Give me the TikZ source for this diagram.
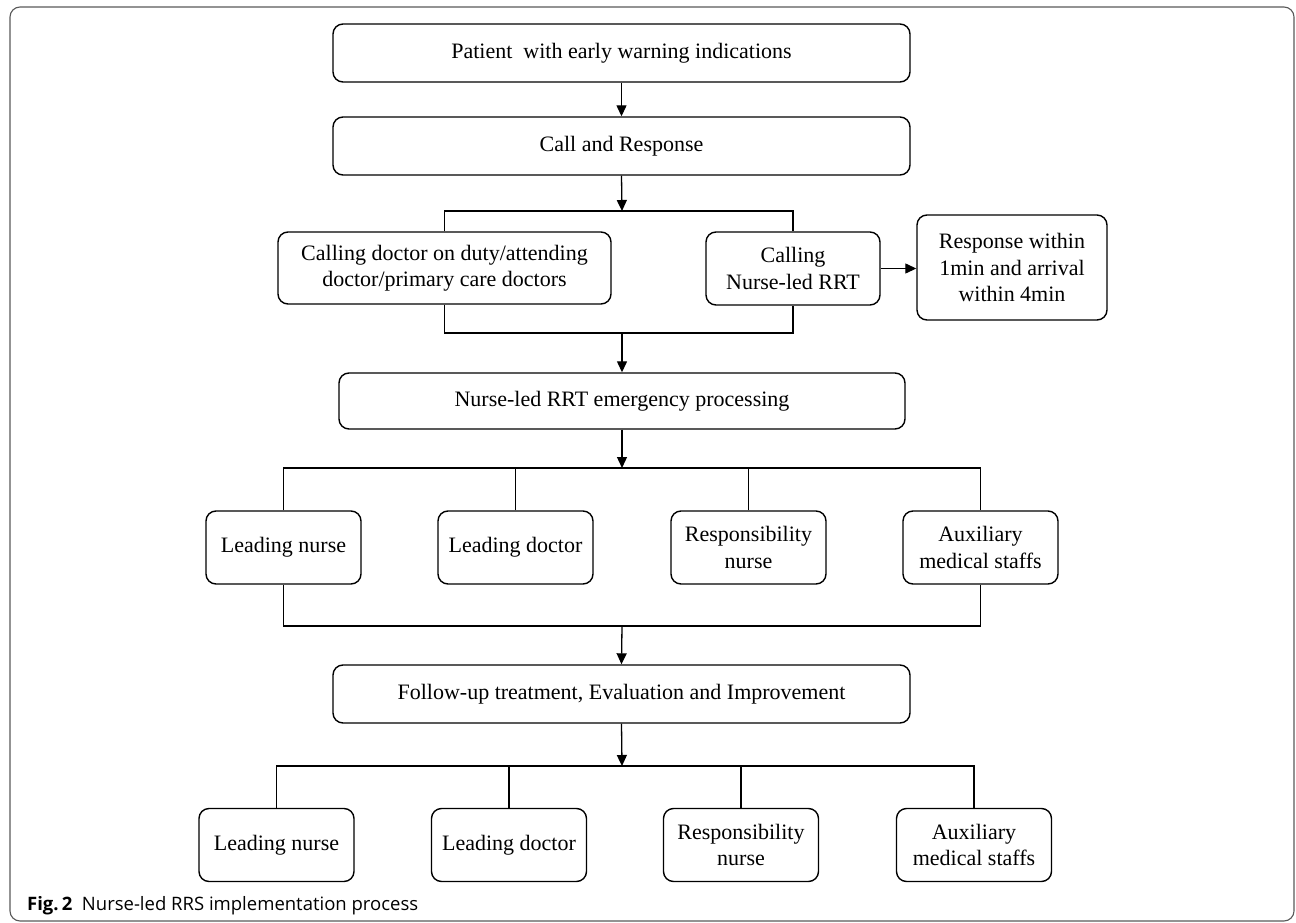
\documentclass[tikz,border=0pt]{standalone}
\usepackage{fontspec}
\setmainfont{Liberation Serif}
\newfontfamily\capfont{Open Sans}
\usetikzlibrary{arrows.meta}
\tikzset{
  box/.style={draw=black, line width=1.4pt, rounded corners=10pt, align=center,
    inner sep=0pt, font=\fontsize{22}{26.5}\selectfont},
  conn/.style={line width=1.3pt, draw=black},
  arr/.style={conn, -{Triangle[length=11pt,width=10pt]}},
}
\begin{document}
\begin{tikzpicture}[x=1pt,y=-1pt]
\useasboundingbox (0,0) rectangle (1296,923);
\draw[draw=black!65, line width=1.1pt, rounded corners=10pt] (10,7) rectangle (1294,921);

\node[box, minimum width=577pt, minimum height=58pt] (b1) at (621.5,53) {Patient\ \ with early warning indications};
\node[box, minimum width=577pt, minimum height=58pt] (b2) at (621.5,146) {Call and Response};

\node[box, minimum width=333pt, minimum height=72pt] (cd) at (444.5,268) {Calling doctor on duty/attending\\doctor/primary care doctors};
\node[box, minimum width=174pt, minimum height=73pt] (cr) at (793,268.5) {Calling\\Nurse-led RRT};
\node[box, minimum width=190pt, minimum height=105pt] (resp) at (1012,267.5) {Response within\\1min and arrival\\within 4min};

\node[box, minimum width=566pt, minimum height=56pt] (em) at (622,401) {Nurse-led RRT emergency processing};

\node[box, minimum width=155pt, minimum height=73pt] (ln1) at (283.5,547.5) {Leading nurse};
\node[box, minimum width=155pt, minimum height=73pt] (ld1) at (515.5,547.5) {Leading doctor};
\node[box, minimum width=155pt, minimum height=73pt] (rn1) at (748.5,547.5) {Responsibility\\nurse};
\node[box, minimum width=155pt, minimum height=73pt] (ax1) at (980.5,547.5) {Auxiliary\\medical staffs};

\node[box, minimum width=577pt, minimum height=58pt] (fu) at (621.5,694) {Follow-up treatment, Evaluation and Improvement};

\node[box, minimum width=155pt, minimum height=73pt] (ln2) at (276.5,845) {Leading nurse};
\node[box, minimum width=155pt, minimum height=73pt] (ld2) at (509,845) {Leading doctor};
\node[box, minimum width=155pt, minimum height=73pt] (rn2) at (741,845) {Responsibility\\nurse};
\node[box, minimum width=155pt, minimum height=73pt] (ax2) at (974,845) {Auxiliary\\medical staffs};

\coordinate (h1) at (622,211);
\coordinate (h2) at (622,333);
\coordinate (h3) at (622,468);
\coordinate (h4) at (622,626);
\coordinate (h5) at (622,766);

\draw[arr] (b1.south) -- (b2.north);
\draw[arr] (b2.south) -- (h1);
\draw[conn] (cd.north) |- (h1) -| (cr.north);
\draw[conn] (cd.south) |- (h2) -| (cr.south);
\draw[arr] (h2) -- (em.north);
\draw[arr] (cr.east) -- (cr.east -| resp.west);

\draw[arr] (em.south) -- (h3);
\draw[conn] (ln1.north) |- (h3) -| (ax1.north);
\draw[conn] (ld1.north) -- (ld1.north |- h3);
\draw[conn] (rn1.north) -- (rn1.north |- h3);
\draw[conn] (ln1.south) |- (h4) -| (ax1.south);
\draw[arr] (h4) -- (fu.north);

\draw[arr] (fu.south) -- (h5);
\draw[conn] (ln2.north) |- (h5) -| (ax2.north);
\draw[conn] (ld2.north) -- (ld2.north |- h5);
\draw[conn] (rn2.north) -- (rn2.north |- h5);

\node[anchor=base west, inner sep=0pt, font=\capfont\fontsize{18.5}{21}\selectfont] (cap) at (27,910) {\textbf{Fig.\,2}\ \ Nurse-led RRS implementation process};
\end{tikzpicture}
\end{document}
